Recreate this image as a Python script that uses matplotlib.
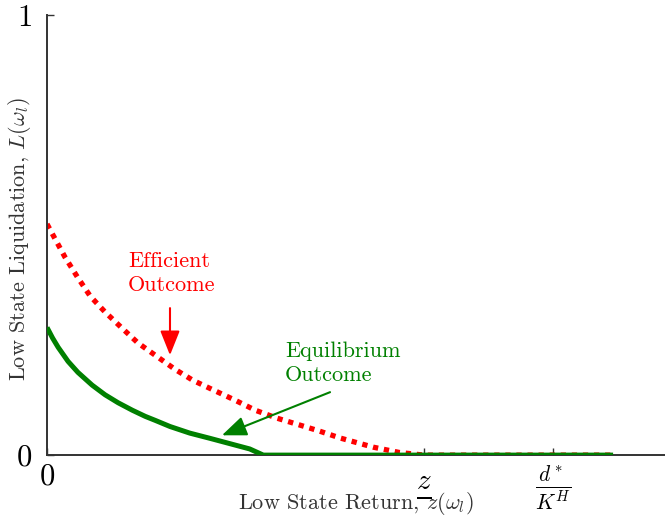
import matplotlib
matplotlib.use('Agg')
import matplotlib.pyplot as plt
from matplotlib.transforms import ScaledTranslation

# Computer Modern look
plt.rcParams['font.family'] = 'serif'
plt.rcParams['font.serif'] = ['cmr10', 'DejaVu Serif']
plt.rcParams['mathtext.fontset'] = 'cm'
plt.rcParams['axes.unicode_minus'] = False

# data
eff_x = [0, 0.029, 0.049, 0.070, 0.094, 0.121, 0.147, 0.175, 0.207, 0.236, 0.269,
         0.304, 0.337, 0.372, 0.405, 0.44, 0.474, 0.528, 0.57, 0.61, 0.916]
eff_y = [0.525, 0.450, 0.405, 0.361, 0.325, 0.289, 0.255, 0.227, 0.195, 0.170, 0.148,
         0.125, 0.102, 0.084, 0.070, 0.055, 0.039, 0.018, 0.006, 0.0, 0.0]

eq_x = [0, 0.009, 0.018, 0.034, 0.050, 0.073, 0.094, 0.115, 0.138, 0.159, 0.175, 0.199,
        0.231, 0.264, 0.296, 0.328, 0.350, 0.916]
eq_y = [0.29, 0.266, 0.245, 0.213, 0.188, 0.159, 0.137, 0.119, 0.102, 0.088, 0.079, 0.065,
        0.050, 0.038, 0.026, 0.014, 0.0, 0.0]

xtick_pos = [0, 0.61, 0.819]
xtick_labels = ['$0$', r'$\frac{z}{\;}$', r'$\frac{d^*}{K^H}$']
xtick_sizes = [22, 30, 22]
xtick_drop = [0, 8, 0]   # extra downward shift in points
ytick_pos = [0, 1]
ytick_labels = ['$0$', '$1$']

fig = plt.figure(figsize=(6.65, 5.16), dpi=100)
ax = fig.add_axes([0.0707, 0.118, 0.9293, 0.853])

ax.plot(eff_x, eff_y, color='red', linewidth=3.8, linestyle=(0, (1, 1.1)), zorder=2)
ax.plot(eq_x, eq_y, color='green', linewidth=3.6, solid_capstyle='butt', zorder=3)

ax.set_xlim(0, 1)
ax.set_ylim(0, 1)

for s in ['top', 'right']:
    ax.spines[s].set_visible(False)
for s in ['left', 'bottom']:
    ax.spines[s].set_color('#333333')
    ax.spines[s].set_linewidth(1.4)

ax.set_xticks(xtick_pos)
ax.set_xticklabels(xtick_labels)
ax.set_yticks(ytick_pos)
ax.set_yticklabels(ytick_labels)
ax.tick_params(direction='in', length=5, width=1, color='#333333')
ax.tick_params(axis='y', labelsize=22, pad=11)
ax.tick_params(axis='x', pad=6)
for lab, sz, dy in zip(ax.get_xticklabels(), xtick_sizes, xtick_drop):
    lab.set_fontsize(sz)
    if dy:
        lab.set_transform(lab.get_transform() +
                          ScaledTranslation(0, -dy / 72, fig.dpi_scale_trans))

ax.set_ylabel(r'Low State Liquidation, $L(\omega_l)$', fontsize=16, color='#333333')
ax.yaxis.set_label_coords(-0.022, 0.49)
ax.set_xlabel(r'Low State Return, $z(\omega_l)$', fontsize=16, color='#333333')
ax.xaxis.set_label_coords(0.5, -0.08)

# efficient outcome label + arrow
ax.text(0.131, 0.462, 'Efficient\nOutcome', fontsize=16, color='red',
        ha='left', va='top', linespacing=1.3)
ax.annotate('', xy=(0.199, 0.227), xytext=(0.199, 0.334),
            arrowprops=dict(arrowstyle='-|>,head_length=0.5,head_width=0.2',
                            color='red', lw=1.5, mutation_scale=30,
                            shrinkA=0, shrinkB=0))

# equilibrium outcome label + arrow
ax.text(0.385, 0.258, 'Equilibrium\nOutcome', fontsize=16, color='green',
        ha='left', va='top', linespacing=1.3)
ax.annotate('', xy=(0.283, 0.045), xytext=(0.458, 0.143),
            arrowprops=dict(arrowstyle='-|>,head_length=0.5,head_width=0.2',
                            color='green', lw=1.5, mutation_scale=30,
                            shrinkA=0, shrinkB=0))

fig.savefig('out.png', dpi=100)
